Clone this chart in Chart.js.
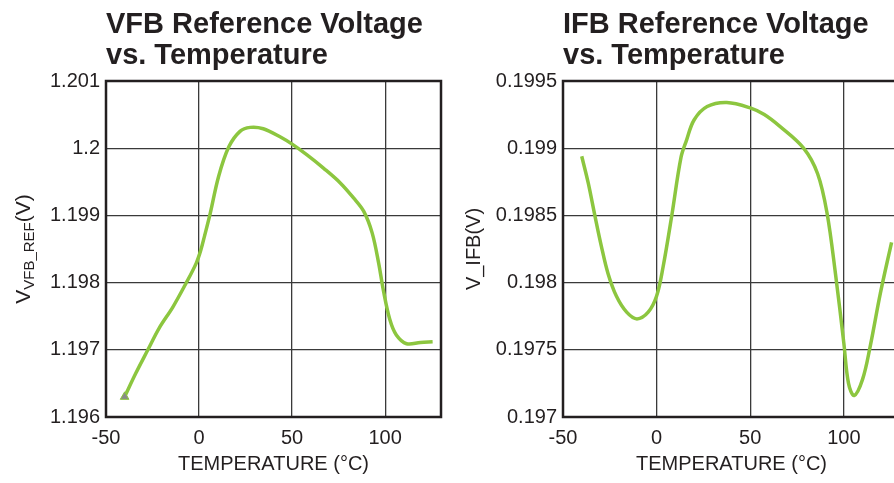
<!DOCTYPE html>
<html>
<head>
<meta charset="utf-8">
<title>Reference Voltage vs. Temperature</title>
<style>
	html, body { margin: 0; padding: 0; background: #fff; overflow: hidden; }
	.chart-box { position: absolute; top: 0; height: 483px; }
	.chart-box canvas { display: block; }
	#vfbBox { left: 0; width: 447px; }
	#ifbBox { left: 447px; width: 460px; }
</style>
</head>
<body>
<div class="chart-box" id="vfbBox"><canvas id="vfbChart" width="447" height="483"></canvas></div>
<div class="chart-box" id="ifbBox"><canvas id="ifbChart" width="460" height="483"></canvas></div>
<script src="https://cdn.jsdelivr.net/npm/chart.js@4/dist/chart.umd.min.js"></script>
<script>
;(function (window, document, undefined) {
	'use strict';

	// temperature ticks shared by both plots
	const tempTicks = [-50, 0, 50, 100];

	// VFB reference voltage
	const vfbTemp = [-40, -34, -27.5, -21.5, -14, -7, -1.5, 1, 3, 6, 10.5, 16, 22, 27.5, 34.5, 43.5, 50, 58, 67, 76, 83, 88.5, 93, 96.5, 99, 102.5, 106, 111.5, 119, 125.5];
	const vfbVolt = [1.19630, 1.19665, 1.19700, 1.19732, 1.19764, 1.19799, 1.19829, 1.19849, 1.19870, 1.19903, 1.19958, 1.20002, 1.20025, 1.20031, 1.20029, 1.20017, 1.20006, 1.19990, 1.19970, 1.19948, 1.19926, 1.19906, 1.19874, 1.19829, 1.19789, 1.19745, 1.19722, 1.19709, 1.19711, 1.19712];
	const vfbTicks = [1.196, 1.197, 1.198, 1.199, 1.2, 1.201];
	const vfbLabels = ['1.196', '1.197', '1.198', '1.199', '1.2', '1.201'];

	// IFB reference voltage
	const ifbTemp = [-40, -36.5, -33, -29.5, -26, -21.5, -16, -10.5, -4.5, 0, 3.5, 8, 13, 16, 20, 27, 37.5, 50, 57.5, 66, 78.5, 86, 91, 95.5, 100, 102.5, 105.5, 110, 114, 119.5, 125.5];
	const ifbVolt = [0.19894, 0.19874, 0.19850, 0.19827, 0.19807, 0.19790, 0.19778, 0.19773, 0.19778, 0.19790, 0.19812, 0.19849, 0.19893, 0.19906, 0.19921, 0.19931, 0.19934, 0.19930, 0.19925, 0.19916, 0.19900, 0.19881, 0.19852, 0.19807, 0.19755, 0.19725, 0.19716, 0.19728, 0.19752, 0.19792, 0.19830];
	const ifbTicks = [0.197, 0.1975, 0.198, 0.1985, 0.199, 0.1995];
	const ifbLabels = ['0.197', '0.1975', '0.198', '0.1985', '0.199', '0.1995'];

	const INK = '#231f20';
	const GRID = '#3a3a3a';
	const GREEN = '#8cc63f';
	const FONT = '"Liberation Sans", Arial, Helvetica, sans-serif';

	let RV = {};

	// outer frame, two line heading, rotated y label with optional subscript
	RV.Frame = function (cfg) {
		return {
			id: 'frame',
			afterDraw: function (chart) {
				let ctx	= chart.ctx;
				let a	= chart.chartArea;

				ctx.save();
				ctx.strokeStyle = INK;
				ctx.lineWidth = 2.5;
				ctx.strokeRect(a.left, a.top, a.right - a.left, a.bottom - a.top);

				ctx.fillStyle = INK;
				ctx.textAlign = 'left';
				ctx.textBaseline = 'alphabetic';
				ctx.font = 'bold 29px ' + FONT;
				cfg.heading.forEach(function (line, i) {
					ctx.fillText(line, a.left, 33 + i * 31);
				});

				ctx.translate(cfg.yTitleX, (a.top + a.bottom) / 2);
				ctx.rotate(-Math.PI / 2);
				let widths	= [];
				let total	= 0;
				cfg.yTitle.forEach(function (part) {
					ctx.font = part.size + 'px ' + FONT;
					let w = ctx.measureText(part.text).width;
					widths.push(w);
					total += w;
				});
				let x = -total / 2;
				ctx.textBaseline = 'middle';
				cfg.yTitle.forEach(function (part, i) {
					ctx.font = part.size + 'px ' + FONT;
					ctx.fillText(part.text, x, part.shift || 0);
					x += widths[i];
				});
				ctx.restore();
			}
		};
	};

	RV.Plot = function (id, cfg) {
		let points = cfg.temp.map(function (t, i) {
			return { x: t, y: cfg.volt[i] };
		});

		new Chart(document.getElementById(id), {
			type: 'line',
			data: {
				datasets: [{
					data: points,
					borderColor: GREEN,
					borderWidth: 3.5,
					tension: 0.35,
					pointRadius: function (c) { return cfg.marker && c.dataIndex === 0 ? 5 : 0; },
					pointStyle: 'triangle',
					pointBackgroundColor: '#8a8a8a',
					pointBorderColor: GREEN,
					pointBorderWidth: 1
				}]
			},
			options: {
				responsive: false,
				animation: false,
				layout: { padding: { top: 81, right: cfg.padRight, bottom: 0, left: 0 } },
				plugins: {
					legend: { display: false },
					tooltip: { enabled: false }
				},
				scales: {
					x: {
						type: 'linear',
						min: -50,
						max: 130,
						afterBuildTicks: function (s) {
							s.ticks = tempTicks.map(function (v) { return { value: v }; });
						},
						afterFit: function (s) { s.height = 66; },
						grid: { color: GRID, lineWidth: 1.3, drawTicks: false },
						border: { display: false },
						ticks: {
							padding: 9,
							maxRotation: 0,
							color: INK,
							font: { family: FONT, size: 20 }
						},
						title: {
							display: true,
							text: 'TEMPERATURE (°C)',
							color: INK,
							font: { family: FONT, size: 20 },
							padding: { top: 0, bottom: 7 }
						}
					},
					y: {
						type: 'linear',
						min: cfg.ticks[0],
						max: cfg.ticks[cfg.ticks.length - 1],
						afterBuildTicks: function (s) {
							s.ticks = cfg.ticks.map(function (v) { return { value: v }; });
						},
						afterFit: function (s) { s.width = cfg.yWidth; },
						grid: { color: GRID, lineWidth: 1.3, drawTicks: false },
						border: { display: false },
						ticks: {
							padding: 6,
							color: INK,
							font: { family: FONT, size: 20 },
							callback: function (v, i) { return cfg.labels[i]; }
						}
					}
				}
			},
			plugins: [RV.Frame(cfg)]
		});
	};

	RV.Plot('vfbChart', {
		temp: vfbTemp,
		volt: vfbVolt,
		ticks: vfbTicks,
		labels: vfbLabels,
		marker: true,
		yWidth: 106,
		padRight: 5,
		heading: ['VFB Reference Voltage', 'vs. Temperature'],
		yTitleX: 24,
		yTitle: [
			{ text: 'V', size: 21 },
			{ text: 'VFB_REF', size: 15, shift: 6 },
			{ text: '(V)', size: 21 }
		]
	});

	RV.Plot('ifbChart', {
		temp: ifbTemp,
		volt: ifbVolt,
		ticks: ifbTicks,
		labels: ifbLabels,
		marker: false,
		yWidth: 116,
		padRight: 7,
		heading: ['IFB Reference Voltage', 'vs. Temperature'],
		yTitleX: 27,
		yTitle: [
			{ text: 'V_IFB(V)', size: 20 }
		]
	});

})(window, document);
</script>
</body>
</html>
